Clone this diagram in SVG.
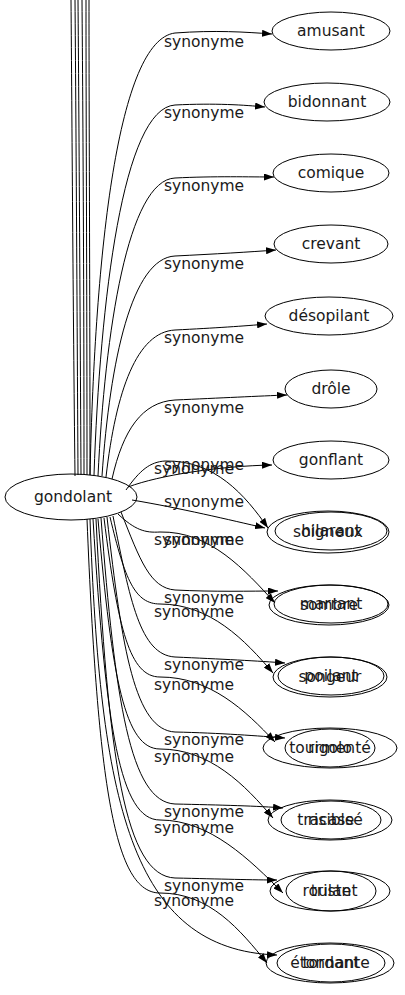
<svg xmlns="http://www.w3.org/2000/svg" width="405" height="995" viewBox="0 0 405 995">
<style>
text{font-family:"DejaVu Sans",sans-serif;font-size:15.5px;fill:#1a1a1a}
.n ellipse{fill:none;stroke:#000;stroke-width:1}
.t{text-anchor:middle}
#edges path{fill:none;stroke:#000;stroke-width:1}
.ea{marker-end:url(#arr)}
</style>
<defs>
<marker id="arr" viewBox="0 0 10 7" refX="10" refY="3.5" markerWidth="10" markerHeight="7" orient="auto" markerUnits="userSpaceOnUse"><path d="M0,0 L10,3.5 L0,7 z" fill="#000"/></marker>
</defs>
<g id="edges">
<path d="M75,476 C73,300 72,120 71,0"/>
<path d="M78,475 C77,300 76,120 75,0"/>
<path d="M81,475 C80,300 79,120 78,0"/>
<path d="M84,475 C84,300 83,120 82,0"/>
<path d="M87,475 C87,300 86,120 86,0"/>
<path d="M90,475 C90,300 89,120 89,0"/>
<path class="ea" d="M90,475 C95,250 118,40 175,33 C215,30 245,32 272,34"/>
<path class="ea" d="M94,475 C100,300 123,108 175,105 C215,103 245,105 265,107"/>
<path class="ea" d="M98,476 C105,330 128,180 175,178 C215,176 250,177 274,177"/>
<path class="ea" d="M102,476 C110,360 132,258 175,256 C215,254 250,252 276,250"/>
<path class="ea" d="M106,477 C116,390 137,332 175,330 C215,328 245,326 267,324"/>
<path class="ea" d="M112,479 C123,430 142,402 175,400 C220,398 260,396 287,395"/>
<path class="ea" d="M128,487 C160,475 220,466 272,465"/>
<path class="ea" d="M132,500 C180,508 230,520 265,528"/>
<path class="ea" d="M121,512 C140,560 150,588 175,590 C215,592 250,591 278,591"/>
<path class="ea" d="M113,516 C130,600 140,655 175,657 C220,659 260,661 285,663"/>
<path class="ea" d="M107,517 C122,650 135,730 175,732 C220,733 260,736 285,738"/>
<path class="ea" d="M101,518 C115,700 130,802 175,804 C220,805 260,806 283,808"/>
<path class="ea" d="M96,519 C108,760 125,876 175,878 C220,879 255,880 277,880"/>
<path class="ea" d="M90,519 C100,800 130,950 277,955"/>
<path class="ea" d="M126,490 C140,470 150,462 165,461 C215,460 245,495 268,528"/>
<path class="ea" d="M118,514 C135,530 145,533 160,532 C210,531 245,570 275,603"/>
<path class="ea" d="M110,517 C125,580 135,604 160,604 C210,604 245,640 273,673"/>
<path class="ea" d="M104,518 C118,630 130,677 160,677 C210,677 245,710 275,742"/>
<path class="ea" d="M98,519 C112,680 125,749 160,749 C210,749 245,785 273,818"/>
<path class="ea" d="M93,519 C106,730 120,820 160,820 C210,820 250,860 283,893"/>
<path class="ea" d="M87,519 C98,790 115,893 160,893 C210,893 240,930 267,963"/>
</g>
<g id="gondolant" class="n"><ellipse cx="71" cy="497" rx="66" ry="23"/><text class="t" x="73" y="502">gondolant</text></g>
<g id="amusant" class="n"><ellipse cx="331" cy="31" rx="59" ry="19"/><text class="t" x="331" y="36">amusant</text></g>
<g id="bidonnant" class="n"><ellipse cx="327" cy="102" rx="63" ry="19"/><text class="t" x="327" y="107">bidonnant</text></g>
<g id="comique" class="n"><ellipse cx="331" cy="173" rx="58" ry="19"/><text class="t" x="331" y="178">comique</text></g>
<g id="crevant" class="n"><ellipse cx="331" cy="244" rx="57" ry="19"/><text class="t" x="331" y="249">crevant</text></g>
<g id="desopilant" class="n"><ellipse cx="329" cy="316" rx="64" ry="19"/><text class="t" x="329" y="321">désopilant</text></g>
<g id="drole" class="n"><ellipse cx="331" cy="389" rx="46" ry="19"/><text class="t" x="331" y="394">drôle</text></g>
<g id="gonflant" class="n"><ellipse cx="331" cy="460" rx="58" ry="19"/><text class="t" x="331" y="465">gonflant</text></g>
<g id="hilarant" class="n"><ellipse cx="331" cy="531" rx="56" ry="19"/><text class="t" x="331" y="536">hilarant</text></g>
<g id="marrant" class="n"><ellipse cx="331" cy="604" rx="57" ry="19"/><text class="t" x="331" y="609">marrant</text></g>
<g id="poilant" class="n"><ellipse cx="331" cy="676" rx="53" ry="19"/><text class="t" x="331" y="681">poilant</text></g>
<g id="rigolo" class="n"><ellipse cx="330" cy="748" rx="45" ry="19"/><text class="t" x="330" y="753">rigolo</text></g>
<g id="risible" class="n"><ellipse cx="331" cy="820" rx="50" ry="19"/><text class="t" x="331" y="825">risible</text></g>
<g id="roulant" class="n"><ellipse cx="330" cy="891" rx="60" ry="20"/><text class="t" x="330" y="896">roulant</text></g>
<g id="tordant" class="n"><ellipse cx="331" cy="963" rx="54" ry="19"/><text class="t" x="331" y="968">tordant</text></g>
<g id="soigneux" class="n"><ellipse cx="328" cy="532" rx="61" ry="21"/><text class="t" x="328" y="537">soigneux</text></g>
<g id="sombre" class="n"><ellipse cx="329" cy="605" rx="60" ry="20"/><text class="t" x="329" y="610">sombre</text></g>
<g id="songeur" class="n"><ellipse cx="330" cy="677" rx="57" ry="20"/><text class="t" x="330" y="682">songeur</text></g>
<g id="tourmente" class="n"><ellipse cx="330" cy="748" rx="67" ry="20"/><text class="t" x="330" y="753">tourmenté</text></g>
<g id="tracasse" class="n"><ellipse cx="330" cy="820" rx="62" ry="20"/><text class="t" x="330" y="825">tracassé</text></g>
<g id="triste" class="n"><ellipse cx="331" cy="891" rx="45" ry="20"/><text class="t" x="331" y="896">triste</text></g>
<g id="etonnante" class="n"><ellipse cx="330" cy="963" rx="64" ry="20"/><text class="t" x="330" y="968">étonnante</text></g>
<g id="labels">
<text class="t" x="204" y="47">synonyme</text>
<text class="t" x="204" y="118">synonyme</text>
<text class="t" x="204" y="191">synonyme</text>
<text class="t" x="204" y="269">synonyme</text>
<text class="t" x="204" y="343">synonyme</text>
<text class="t" x="204" y="413">synonyme</text>
<text class="t" x="204" y="470">synonyme</text>
<text class="t" x="204" y="507">synonyme</text>
<text class="t" x="204" y="545">synonyme</text>
<text class="t" x="204" y="603">synonyme</text>
<text class="t" x="204" y="670">synonyme</text>
<text class="t" x="204" y="745">synonyme</text>
<text class="t" x="204" y="817">synonyme</text>
<text class="t" x="204" y="891">synonyme</text>
<text class="t" x="194" y="474">synonyme</text>
<text class="t" x="194" y="545">synonyme</text>
<text class="t" x="194" y="617">synonyme</text>
<text class="t" x="194" y="690">synonyme</text>
<text class="t" x="194" y="762">synonyme</text>
<text class="t" x="194" y="833">synonyme</text>
<text class="t" x="194" y="906">synonyme</text>
</g>
</svg>
